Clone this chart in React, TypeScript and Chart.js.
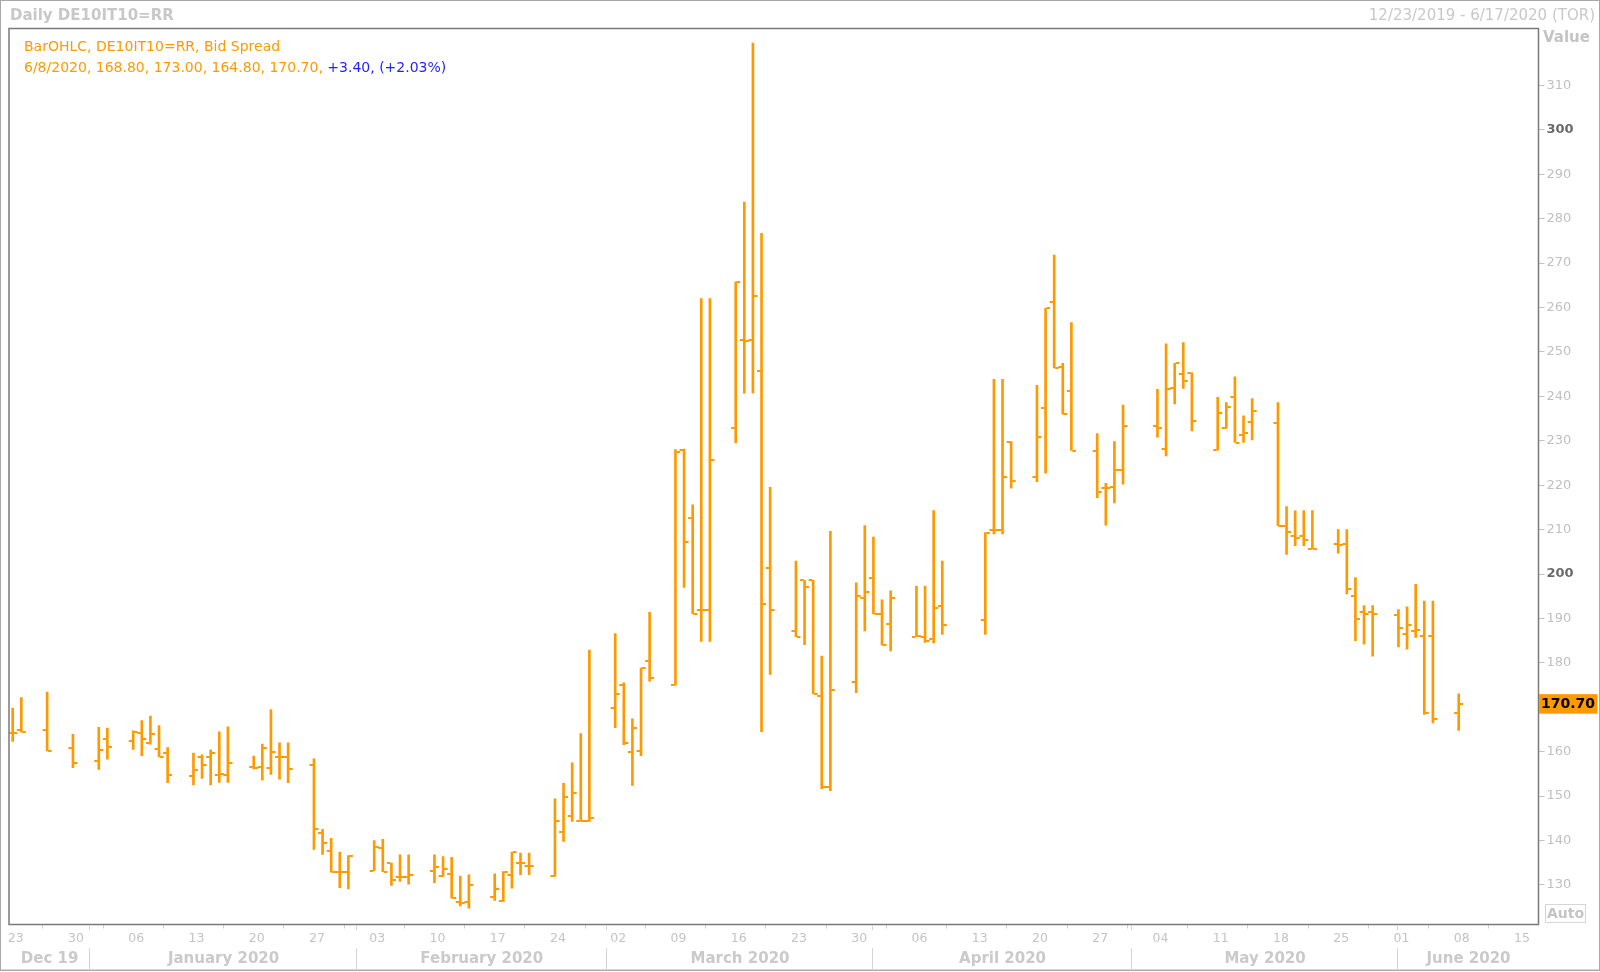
import React, { useEffect, useRef } from 'react';
import { Chart, registerables } from 'chart.js';

Chart.register(...registerables);

const dates = [
  '2019-12-23', '2019-12-24', '2019-12-27', '2019-12-30',
  '2020-01-02', '2020-01-03', '2020-01-06', '2020-01-07', '2020-01-08', '2020-01-09', '2020-01-10',
  '2020-01-13', '2020-01-14', '2020-01-15', '2020-01-16', '2020-01-17',
  '2020-01-20', '2020-01-21', '2020-01-22', '2020-01-23', '2020-01-24',
  '2020-01-27', '2020-01-28', '2020-01-29', '2020-01-30', '2020-01-31',
  '2020-02-03', '2020-02-04', '2020-02-05', '2020-02-06', '2020-02-07',
  '2020-02-10', '2020-02-11', '2020-02-12', '2020-02-13', '2020-02-14',
  '2020-02-17', '2020-02-18', '2020-02-19', '2020-02-20', '2020-02-21',
  '2020-02-24', '2020-02-25', '2020-02-26', '2020-02-27', '2020-02-28',
  '2020-03-02', '2020-03-03', '2020-03-04', '2020-03-05', '2020-03-06',
  '2020-03-09', '2020-03-10', '2020-03-11', '2020-03-12', '2020-03-13',
  '2020-03-16', '2020-03-17', '2020-03-18', '2020-03-19', '2020-03-20',
  '2020-03-23', '2020-03-24', '2020-03-25', '2020-03-26', '2020-03-27',
  '2020-03-30', '2020-03-31', '2020-04-01', '2020-04-02', '2020-04-03',
  '2020-04-06', '2020-04-07', '2020-04-08', '2020-04-09',
  '2020-04-14', '2020-04-15', '2020-04-16', '2020-04-17',
  '2020-04-20', '2020-04-21', '2020-04-22', '2020-04-23', '2020-04-24',
  '2020-04-27', '2020-04-28', '2020-04-29', '2020-04-30',
  '2020-05-04', '2020-05-05', '2020-05-06', '2020-05-07', '2020-05-08',
  '2020-05-11', '2020-05-12', '2020-05-13', '2020-05-14', '2020-05-15',
  '2020-05-18', '2020-05-19', '2020-05-20', '2020-05-21', '2020-05-22',
  '2020-05-25', '2020-05-26', '2020-05-27', '2020-05-28', '2020-05-29',
  '2020-06-01', '2020-06-02', '2020-06-03', '2020-06-04', '2020-06-05',
  '2020-06-08',
];

const opens = [
  164.1, 164.9, 164.9, 160.9,
  157.9, 162.9, 162.3, 164.1, 161.9, 160.5, 159.7,
  154.5, 158.9, 158.9, 154.8, 154.8,
  156.6, 156.5, 156.3, 158.7, 158.7,
  156.9, 141.8, 137.7, 132.9, 132.9,
  133.2, 138.3, 134.9, 131.9, 131.9,
  133.2, 132.0, 132.5, 126.2, 126.2,
  127.2, 126.4, 132.3, 134.9, 134.3,
  132.0, 142.0, 145.5, 144.4, 144.4,
  169.8, 175.0, 159.9, 160.1, 180.5,
  175.0, 228.0, 212.7, 191.8, 191.8,
  232.8, 252.7, 252.7, 245.8, 201.4,
  187.2, 198.6, 198.6, 172.6, 152.0,
  175.8, 194.6, 199.2, 191.1, 188.7,
  185.9, 185.9, 185.3, 192.8,
  189.6, 209.9, 209.9, 229.8,
  221.8, 237.4, 261.2, 246.7, 241.3,
  227.8, 219.3, 219.6, 223.5,
  233.3, 228.1, 241.9, 245.0, 245.2,
  227.9, 232.9, 239.8, 231.3, 234.3,
  234.1, 210.7, 208.6, 208.6, 205.6,
  206.7, 206.7, 195.0, 191.4, 191.4,
  190.8, 186.6, 187.2, 186.1, 186.1,
  168.8,
];

const highs = [
  169.8, 172.2, 173.4, 163.9,
  165.5, 165.3, 164.7, 167.0, 168.0, 165.9, 160.9,
  159.7, 159.3, 160.4, 164.5, 165.6,
  159.0, 161.7, 169.5, 162.0, 162.0,
  158.4, 142.5, 140.5, 137.4, 136.6,
  140.0, 140.3, 134.9, 136.8, 136.8,
  136.8, 136.4, 136.2, 132.0, 132.3,
  132.5, 133.0, 137.4, 137.2, 137.2,
  149.4, 152.9, 157.5, 164.1, 182.9,
  186.6, 175.5, 167.4, 178.8, 191.4,
  228.0, 228.1, 215.6, 262.0, 262.0,
  265.8, 283.7, 319.5, 276.7, 219.5,
  202.9, 198.6, 198.6, 181.5, 209.6,
  198.0, 210.9, 208.3, 194.2, 196.2,
  197.3, 197.3, 214.3, 202.9,
  209.3, 243.8, 243.8, 229.8,
  242.5, 259.8, 271.8, 247.4, 256.6,
  231.6, 220.4, 229.8, 238.0,
  241.6, 251.8, 247.4, 252.1, 245.3,
  239.8, 238.6, 244.4, 235.6, 239.5,
  238.6, 215.2, 214.2, 214.3, 214.3,
  210.0, 210.0, 199.2, 192.9, 192.9,
  192.0, 192.6, 197.7, 193.9, 193.9,
  173.0,
];

const lows = [
  162.3, 164.4, 160.2, 156.4,
  156.0, 158.3, 160.5, 159.1, 161.7, 158.8, 153.0,
  152.5, 154.0, 152.5, 153.1, 153.1,
  156.1, 153.6, 154.9, 153.8, 153.0,
  138.0, 136.9, 132.9, 129.4, 129.1,
  133.2, 133.0, 129.9, 130.8, 130.2,
  130.5, 131.9, 127.0, 125.3, 124.8,
  126.5, 126.3, 129.3, 132.3, 132.3,
  131.9, 139.8, 144.3, 144.3, 144.3,
  165.4, 161.6, 152.4, 159.1, 175.9,
  175.0, 197.0, 191.0, 184.8, 184.8,
  229.5, 240.7, 240.7, 164.5, 177.4,
  185.9, 184.1, 173.0, 151.7, 151.2,
  173.3, 187.2, 191.0, 184.0, 182.7,
  185.9, 184.6, 184.5, 186.4,
  186.4, 209.0, 209.0, 219.3,
  220.8, 222.7, 246.4, 236.0, 227.8,
  217.2, 211.0, 216.0, 220.2,
  230.8, 226.6, 238.3, 241.8, 232.2,
  227.9, 232.8, 229.6, 229.6, 230.2,
  210.8, 204.4, 206.4, 206.4, 205.6,
  204.7, 195.5, 185.0, 184.2, 181.5,
  183.6, 183.1, 185.7, 168.4, 166.5,
  164.8,
];

const closes = [
  164.3, 164.5, 160.2, 157.5,
  160.4, 161.1, 164.5, 162.9, 164.0, 158.9, 154.8,
  155.9, 157.0, 159.6, 155.0, 157.5,
  156.3, 160.8, 159.9, 158.7, 156.1,
  142.6, 139.5, 132.9, 132.9, 136.6,
  138.6, 133.0, 131.1, 131.9, 132.3,
  134.1, 133.7, 127.0, 126.0, 130.1,
  129.0, 133.0, 137.4, 134.9, 134.3,
  144.3, 149.7, 150.8, 144.4, 145.0,
  172.9, 162.0, 165.4, 178.8, 176.7,
  227.5, 207.3, 191.0, 192.0, 225.6,
  265.8, 252.5, 262.6, 193.2, 191.8,
  185.9, 197.0, 173.0, 152.0, 174.0,
  195.1, 196.0, 191.0, 184.0, 194.5,
  186.0, 184.9, 192.3, 188.5,
  209.3, 210.0, 221.8, 221.0,
  230.9, 259.8, 246.4, 236.0, 227.8,
  218.4, 219.3, 223.5, 233.3,
  232.8, 241.6, 247.4, 243.4, 234.4,
  236.2, 237.7, 229.6, 231.7, 236.7,
  210.8, 209.4, 208.0, 207.6, 205.6,
  206.5, 196.6, 189.8, 191.0, 191.0,
  187.8, 188.5, 187.5, 168.8, 167.3,
  170.7,
];

const weekTickDates = [
  '2019-12-23', '2019-12-30', '2020-01-06', '2020-01-13', '2020-01-20', '2020-01-27',
  '2020-02-03', '2020-02-10', '2020-02-17', '2020-02-24', '2020-03-02', '2020-03-09',
  '2020-03-16', '2020-03-23', '2020-03-30', '2020-04-06', '2020-04-13', '2020-04-20',
  '2020-04-27', '2020-05-04', '2020-05-11', '2020-05-18', '2020-05-25', '2020-06-01',
  '2020-06-08', '2020-06-15',
];
const weekTickLabels = [
  '23', '30', '06', '13', '20', '27', '03', '10', '17', '24', '02', '09', '16',
  '23', '30', '06', '13', '20', '27', '04', '11', '18', '25', '01', '08', '15',
];
const monthStartDates = ['2020-01-01', '2020-02-01', '2020-03-01', '2020-04-01', '2020-05-01', '2020-06-01'];
const monthLabels = ['Dec 19', 'January 2020', 'February 2020', 'March 2020', 'April 2020', 'May 2020', 'June 2020'];
const yTickValues = [130, 140, 150, 160, 170, 180, 190, 200, 210, 220, 230, 240, 250, 260, 270, 280, 290, 300, 310];
const boldYTicks = [200, 300];

const titleText = 'Daily DE10IT10=RR';
const rangeText = '12/23/2019 - 6/17/2020 (TOR)';
const legendLine1 = 'BarOHLC, DE10IT10=RR, Bid Spread';
const legendLine2a = '6/8/2020, 168.80, 173.00, 164.80, 170.70, ';
const legendLine2b = '+3.40, (+2.03%)';
const lastValue = 170.7;

const ORANGE = '#FF9900';
const FONT = '"DejaVu Sans", Verdana, sans-serif';
const X_MIN = -0.43;
const X_MAX = 177.27;
const Y_MIN = 121.1;
const Y_MAX = 322.8;

const BASE = Date.UTC(2019, 11, 23);
function dayOffset(s: string): number {
  const [y, m, d] = s.split('-').map(Number);
  return Math.round((Date.UTC(y, m - 1, d) - BASE) / 86400000);
}

const overlayPlugin = {
  id: 'overlay',
  beforeDraw(chart: any) {
    const { ctx, width, height } = chart;
    ctx.save();
    ctx.fillStyle = '#FFFFFF';
    ctx.fillRect(0, 0, width, height);
    ctx.restore();
  },
  afterDatasetsDraw(chart: any) {
    const { ctx, chartArea } = chart;
    const xs = chart.scales.x;
    const ys = chart.scales.y;
    ctx.save();
    ctx.beginPath();
    ctx.rect(chartArea.left, chartArea.top, chartArea.right - chartArea.left, chartArea.bottom - chartArea.top);
    ctx.clip();
    ctx.fillStyle = ORANGE;
    dates.forEach((d, i) => {
      const x = xs.getPixelForValue(dayOffset(d));
      const yo = Math.round(ys.getPixelForValue(opens[i]));
      const yc = Math.round(ys.getPixelForValue(closes[i]));
      ctx.fillRect(x - 4.5, yo - 1, 3.5, 2);
      ctx.fillRect(x + 1, yc - 1, 3.5, 2);
    });
    ctx.restore();
  },
  afterDraw(chart: any) {
    const { ctx, chartArea, width } = chart;
    const xs = chart.scales.x;
    const ys = chart.scales.y;
    ctx.save();
    // plot frame
    ctx.strokeStyle = '#7A7A7A';
    ctx.lineWidth = 1.5;
    ctx.strokeRect(chartArea.left, chartArea.top, chartArea.right - chartArea.left, chartArea.bottom - chartArea.top);

    // header row
    ctx.textBaseline = 'middle';
    ctx.fillStyle = '#C8C8C8';
    ctx.font = `bold 15px ${FONT}`;
    ctx.textAlign = 'left';
    ctx.fillText(titleText, 10, 16);
    ctx.font = `15px ${FONT}`;
    ctx.textAlign = 'right';
    ctx.fillText(rangeText, 1595, 16);

    // legend inside plot
    ctx.textAlign = 'left';
    ctx.font = `14px ${FONT}`;
    ctx.fillStyle = ORANGE;
    ctx.fillText(legendLine1, 24, 47.5);
    ctx.fillText(legendLine2a, 24, 68.5);
    const w = ctx.measureText(legendLine2a).width;
    ctx.fillStyle = '#1F1FFF';
    ctx.fillText(legendLine2b, 24 + w, 68.5);

    // Value label
    ctx.fillStyle = '#C4C4C4';
    ctx.font = `bold 15px ${FONT}`;
    ctx.fillText('Value', 1543, 38.5);

    // last value label
    const yv = ys.getPixelForValue(lastValue);
    ctx.fillStyle = ORANGE;
    ctx.fillRect(chartArea.right + 0.5, yv - 10, 58.5, 19.5);
    ctx.fillStyle = '#000000';
    ctx.font = `bold 14px ${FONT}`;
    ctx.fillText(lastValue.toFixed(2), chartArea.right + 2.5, yv);

    // Auto box
    ctx.strokeStyle = '#D6D6D6';
    ctx.lineWidth = 1;
    ctx.strokeRect(1545.5, 904.5, 40, 18);
    ctx.fillStyle = '#C4C4C4';
    ctx.textAlign = 'center';
    ctx.font = `bold 14px ${FONT}`;
    ctx.fillText('Auto', 1565.5, 914);

    // month row
    const bounds = [chartArea.left, ...monthStartDates.map((d) => xs.getPixelForValue(dayOffset(d))), chartArea.right];
    ctx.strokeStyle = '#D4D4D4';
    ctx.lineWidth = 1;
    monthStartDates.forEach((d) => {
      const x = Math.round(xs.getPixelForValue(dayOffset(d))) - 0.5;
      ctx.beginPath();
      ctx.moveTo(x, 925);
      ctx.lineTo(x, 930);
      ctx.moveTo(x, 948);
      ctx.lineTo(x, 969);
      ctx.stroke();
    });
    ctx.fillStyle = '#CACACA';
    ctx.font = `bold 15px ${FONT}`;
    monthLabels.forEach((lab, i) => {
      ctx.fillText(lab, (bounds[i] + bounds[i + 1]) / 2, 959.5);
    });

    // bottom line and outer border
    ctx.strokeStyle = '#D8D8D8';
    ctx.beginPath();
    ctx.moveTo(0, 969.5);
    ctx.lineTo(width, 969.5);
    ctx.stroke();
    ctx.strokeStyle = '#A8A8A8';
    ctx.strokeRect(0.5, 0.5, 1599, 970);
    ctx.restore();
  },
};

export default function App() {
  const ref = useRef<HTMLCanvasElement>(null);
  useEffect(() => {
    const canvas = ref.current;
    if (!canvas) return;
    const chart = new Chart(canvas, {
      type: 'bar',
      data: {
        datasets: [
          {
            data: dates.map((d, i) => ({ x: dayOffset(d), y: [lows[i], highs[i]] })) as any,
            backgroundColor: ORANGE,
            borderWidth: 0,
            barThickness: 2,
            grouped: false,
          } as any,
        ],
      },
      options: {
        responsive: false,
        animation: false,
        devicePixelRatio: 1,
        layout: { padding: { left: 9, top: 28.5, right: 0, bottom: 0 } },
        plugins: { legend: { display: false }, tooltip: { enabled: false } },
        scales: {
          x: {
            type: 'linear',
            min: X_MIN,
            max: X_MAX,
            offset: false,
            border: { display: false },
            grid: { drawOnChartArea: false, drawTicks: true, tickLength: 4, color: '#D0D0D0' },
            afterBuildTicks: (s: any) => {
              s.ticks = weekTickDates.map((d) => ({ value: dayOffset(d) }));
            },
            afterFit: (s: any) => {
              s.height = 47.5;
            },
            ticks: {
              autoSkip: false,
              maxRotation: 0,
              minRotation: 0,
              padding: 3,
              labelOffset: 3,
              color: '#C4C4C4',
              font: { family: FONT, size: 12.5 },
              callback: (_v: any, i: number) => weekTickLabels[i],
            },
          },
          y: {
            position: 'right',
            min: Y_MIN,
            max: Y_MAX,
            border: { display: false },
            grid: { drawOnChartArea: false, drawTicks: true, tickLength: 6, color: '#C4C4C4' },
            afterBuildTicks: (s: any) => {
              s.ticks = yTickValues.map((v) => ({ value: v }));
            },
            afterFit: (s: any) => {
              s.width = 61.5;
            },
            ticks: {
              padding: 2,
              color: (c: any) => (c.tick && boldYTicks.includes(c.tick.value) ? '#6A6A6A' : '#C0C0C0'),
              font: (c: any) => ({
                family: FONT,
                size: 13,
                weight: c.tick && boldYTicks.includes(c.tick.value) ? 'bold' : 'normal',
              }),
              callback: (v: any) => String(v),
            },
          },
        },
      } as any,
      plugins: [overlayPlugin],
    });
    return () => chart.destroy();
  }, []);
  return (
    <div style={{ position: 'fixed', left: 0, top: 0, width: 1600, height: 972, background: '#FFFFFF' }}>
      <canvas ref={ref} width={1600} height={972} style={{ width: 1600, height: 972, display: 'block' }} />
    </div>
  );
}
